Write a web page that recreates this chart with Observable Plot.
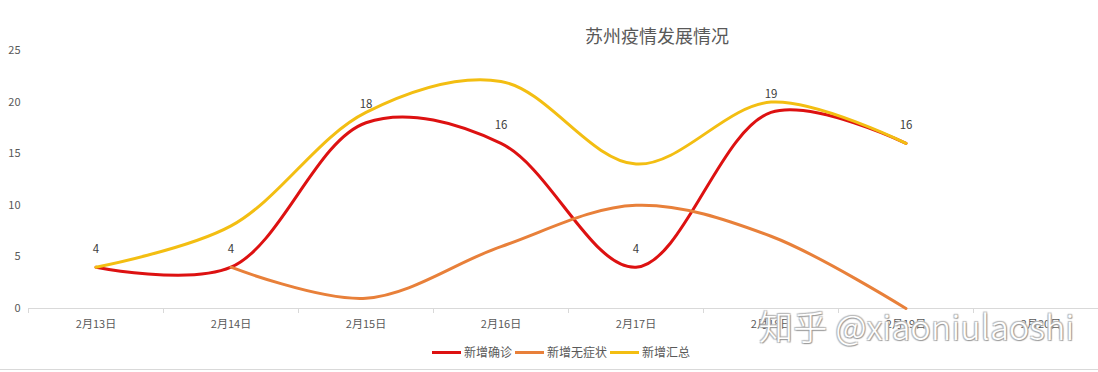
<!DOCTYPE html>
<html>
<head>
<meta charset="utf-8">
<script src="https://cdn.jsdelivr.net/npm/d3@7"></script>
<script src="https://cdn.jsdelivr.net/npm/@observablehq/plot@0.6"></script>
<style>
  html, body { margin: 0; padding: 0; background: #fff; overflow: hidden; }
  #wrap { position: relative; width: 1098px; height: 372px; overflow: hidden; font-family: "Noto Sans CJK SC", "Noto Sans", sans-serif; }
  #chart { position: absolute; left: 0; top: 0; width: 1112px; }
  #chart svg { max-width: none !important; }
  #title { position: absolute; left: 557px; width: 200px; top: 23px; text-align: center; font-size: 18px; color: #595959; line-height: 24px; }
  #legend { position: absolute; left: 432px; top: 343px; display: flex; align-items: center; font-size: 12px; color: #595959; line-height: 18px; }
  #legend .sw { width: 29px; height: 3px; margin-right: 3px; }
  #legend .it { display: flex; align-items: center; margin-right: 3px; }
  #border { position: absolute; left: 0; top: 369px; width: 1098px; height: 1px; background: #d9d9d9; }
  #wm { position: absolute; left: 759px; top: 301px; font-size: 34px; color: #fff; font-weight: 300; letter-spacing: 0.3px;
        text-shadow: 1px 1px 1px #999, -1px -1px 1px #bbb, 1px -1px 1px #bbb, -1px 1px 1px #bbb; white-space: nowrap; }
</style>
</head>
<body>
<div id="wrap">
  <div id="chart"></div>
  <div id="title"></div>
  <div id="legend"></div>
  <div id="wm">知乎 @xiaoniulaoshi</div>
  <div id="border"></div>
</div>
<script>
const titleText = "苏州疫情发展情况";
const dates = ["2月13日", "2月14日", "2月15日", "2月16日", "2月17日", "2月18日", "2月19日", "2月20日"];
const seriesNames = ["新增确诊", "新增无症状", "新增汇总"];
const seriesColors = ["#DD1111", "#E8803A", "#F3BE12"];
const confirmed = [4, 4, 18, 16, 4, 19, 16, null];
const asymptomatic = [null, 4, 1, 6, 10, 7, 0, null];
const total = [4, 8, 19, 22, 14, 20, 16, null];
const yTicks = [0, 5, 10, 15, 20, 25];

const seriesValues = [confirmed, asymptomatic, total];
const rows = [];
seriesValues.forEach((vals, s) => {
  vals.forEach((v, i) => {
    if (v !== null) rows.push({series: seriesNames[s], i, date: dates[i], value: v});
  });
});
const labelRows = rows.filter(d => d.series === seriesNames[0]);
const n = dates.length;
const bounds = d3.range(n + 1).map(i => i - 0.5);

const plot = Plot.plot({
  width: 1112,
  height: 372,
  marginLeft: 28,
  marginRight: 4,
  marginTop: 50,
  marginBottom: 64,
  style: {fontFamily: '"Noto Sans CJK SC", "Noto Sans", sans-serif', background: "transparent", maxWidth: "none"},
  x: {type: "linear", domain: [-0.5, n - 0.5]},
  y: {domain: [0, 25]},
  color: {domain: seriesNames, range: seriesColors},
  marks: [
    Plot.ruleY([0], {stroke: "#d9d9d9", strokeWidth: 1}),
    Plot.axisX({ticks: bounds, tickFormat: () => "", tickSize: 5, stroke: "#d9d9d9", strokeOpacity: 1, label: null}),
    Plot.axisX({ticks: d3.range(n), tickFormat: i => dates[i], tickSize: 0, tickPadding: 12, fontSize: 11, fill: "#595959", label: null}),
    Plot.axisY({ticks: yTicks, tickSize: 0, tickPadding: 8, fontSize: 11, fill: "#595959", label: null}),
    Plot.line(rows, {x: "i", y: "value", z: "series", stroke: "series", strokeWidth: 3, curve: "catmull-rom"}),
    Plot.text(labelRows, {x: "i", y: "value", text: d => String(d.value), dy: -18, fill: "#404040", fontSize: 11.5})
  ]
});
document.getElementById("chart").appendChild(plot);
document.getElementById("title").textContent = titleText;

const legend = document.getElementById("legend");
seriesNames.forEach((name, k) => {
  const it = document.createElement("div");
  it.className = "it";
  const sw = document.createElement("div");
  sw.className = "sw";
  sw.style.background = seriesColors[k];
  const tx = document.createElement("span");
  tx.textContent = name;
  it.appendChild(sw);
  it.appendChild(tx);
  legend.appendChild(it);
});
</script>
</body>
</html>
